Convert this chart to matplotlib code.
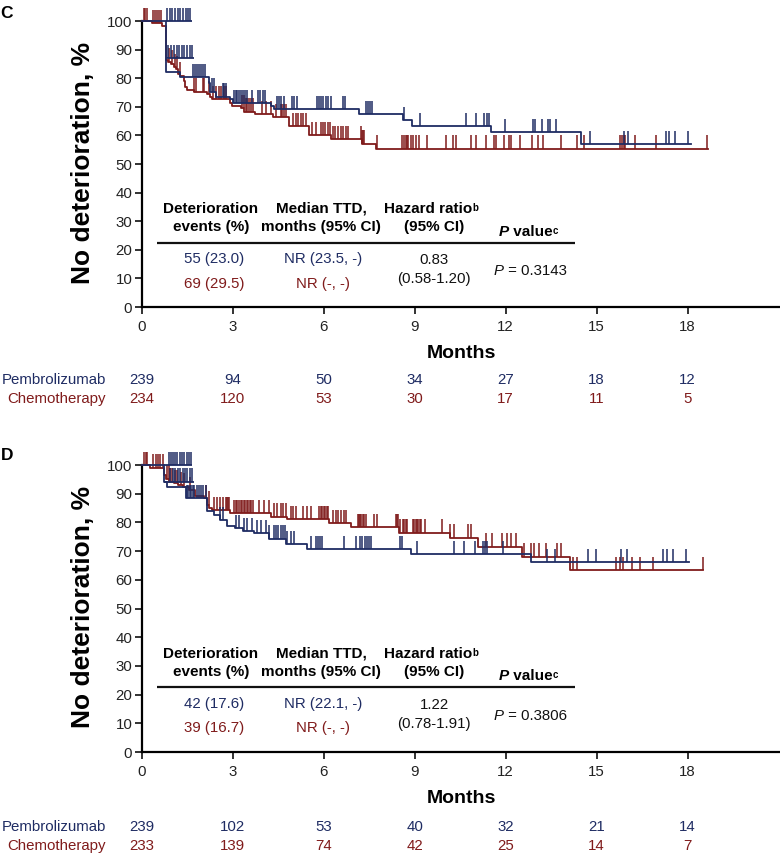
import numpy as np
import matplotlib
matplotlib.use("Agg")
import matplotlib.pyplot as plt
from matplotlib.transforms import blended_transform_factory

plt.rcParams['font.family'] = ['Liberation Sans', 'DejaVu Sans']

BLUE = '#1f2c63'
RED = '#801b1b'

months_ticks = [0, 3, 6, 9, 12, 15, 18]
y_ticks = [0, 10, 20, 30, 40, 50, 60, 70, 80, 90, 100]
arms = ['Pembrolizumab', 'Chemotherapy']

# ---------------- Panel C ----------------
c_pem_t = [0, 0.78, 1.25, 2.2, 2.25, 2.43, 2.9, 3.0, 4.24, 4.35, 7.17, 8.6, 8.92, 11.5, 14.5]
c_pem_s = [100, 82.3, 80.3, 78.2, 75.3, 73.5, 72.7, 71.2, 70.3, 69.1, 67.4, 65.4, 63.3, 61.1, 57.0]
c_pem_end = 18.12
c_pem_spur_levels = [100, 87.0]
c_pem_spur_start = [0.78, 0.78]
c_pem_spur_end = [1.66, 1.73]
c_pem_spur1_cens = [0.83, 0.91, 1.0, 1.1, 1.18, 1.27, 1.36, 1.45, 1.52, 1.6]
c_pem_spur2_cens = [0.87, 0.95, 1.05, 1.15, 1.23, 1.32, 1.4, 1.49, 1.58, 1.64]
c_pem_cens = [1.68, 1.74, 1.81, 1.87, 1.94, 2.0, 2.07, 2.32, 2.38, 2.66, 2.72, 2.78,
              3.03, 3.09, 3.14, 3.21, 3.27, 3.34, 3.41, 3.47, 3.64, 3.82, 3.9, 3.98, 4.06,
              4.44, 4.52, 4.6, 4.69, 4.95, 5.03, 5.12, 5.76, 5.83, 5.91, 5.98, 6.06, 6.15,
              6.22, 6.62, 6.69, 7.38, 7.46, 7.52, 7.6, 8.64, 9.16, 10.68, 11.03, 11.28,
              11.37, 11.45, 11.97, 12.91, 12.97, 13.19, 13.4, 13.47, 13.66, 14.77, 15.9,
              16.02, 17.28, 17.4, 17.6, 18.01]

c_che_t = [0, 0.34, 0.67, 0.78, 0.86, 0.96, 1.04, 1.12, 1.2, 1.25, 1.37, 1.43, 1.5, 1.7,
           2.15, 2.23, 2.3, 2.9, 2.98, 3.25, 3.38, 3.72, 4.33, 4.85, 5.5, 6.25, 7.25, 7.72]
c_che_s = [100, 99.2, 98.3, 86.4, 85.8, 85.0, 83.8, 83.1, 81.5, 80.8, 79.1, 76.8, 75.9, 75.3,
           74.4, 73.3, 72.6, 71.4, 70.3, 69.5, 68.3, 67.5, 66.3, 63.3, 60.1, 58.7, 57.1, 55.3]
c_che_end = 18.68
c_che_cens = [0.05, 0.1, 0.15, 0.36, 0.42, 0.48, 0.55, 0.62, 0.9, 1.0, 1.1, 1.15, 1.25,
              1.72, 1.78, 2.0, 2.05, 2.2, 2.35, 2.45, 2.55, 2.62, 2.7, 2.78,
              3.3, 3.36, 3.42, 3.48, 3.54, 3.6, 3.66, 3.97, 4.1, 4.25, 4.41,
              4.57, 4.63, 4.69, 4.75, 4.99, 5.07, 5.15, 5.23, 5.31, 5.4,
              5.62, 5.73, 5.91, 5.98, 6.05, 6.13, 6.2, 6.31, 6.38, 6.46, 6.55, 6.64, 6.73, 6.8,
              7.21, 7.25, 7.29, 7.32, 7.76, 8.59, 8.66, 8.7, 8.74, 8.77, 8.86, 8.95, 9.03,
              9.14, 9.41, 10.02, 10.27, 10.35, 10.86, 11.02, 11.36, 11.61, 11.69, 11.96,
              12.12, 12.19, 12.46, 12.88, 13.06, 13.23, 13.81, 14.34, 14.58, 15.77, 15.85,
              15.9, 15.93, 16.28, 16.95, 18.65]

c_events = ['55 (23.0)', '69 (29.5)']
c_median = ['NR (23.5, -)', 'NR (-, -)']
c_hr = ['0.83', '(0.58-1.20)']
c_p = '0.3143'
c_risk_pem = [239, 94, 50, 34, 27, 18, 12]
c_risk_che = [234, 120, 53, 30, 17, 11, 5]

# ---------------- Panel D ----------------
d_pem_t = [0, 0.71, 0.81, 1.44, 2.13, 2.16, 2.39, 2.57, 2.81, 3.06, 3.33, 3.69, 4.19, 4.76,
           5.45, 8.86, 12.82]
d_pem_s = [100, 94.2, 92.4, 88.4, 85.5, 84.0, 82.6, 80.8, 78.7, 77.9, 77.0, 76.2, 74.4, 72.4,
           70.7, 69.0, 66.1]
d_pem_end = 18.05
d_pem_spur_levels = [100, 94.2]
d_pem_spur_start = [0.71, 0.71]
d_pem_spur_end = [1.66, 1.71]
d_pem_spur1_cens = [0.88, 0.95, 1.02, 1.1, 1.17, 1.25, 1.32, 1.4, 1.47, 1.55, 1.62]
d_pem_spur2_cens = [0.94, 1.02, 1.1, 1.18, 1.26, 1.34, 1.42, 1.5, 1.58, 1.66]
d_pem_cens = [1.47, 1.52, 1.57, 1.62, 1.67, 1.72, 1.8, 1.88, 1.95, 2.02, 2.1, 2.59, 2.68,
              3.09, 3.2, 3.36, 3.47, 3.64, 3.8, 3.91, 4.08, 4.19, 4.35, 4.42, 4.5, 4.57,
              4.64, 4.71, 4.78, 4.9, 5.03, 5.56, 5.73, 5.8, 5.88, 5.95, 6.68, 7.05, 7.19,
              7.27, 7.35, 7.44, 7.49, 7.54, 8.51, 8.59, 9.06, 10.29, 10.64, 10.98, 11.25,
              11.32, 11.37, 11.92, 13.37, 13.61, 14.71, 14.97, 15.81, 15.99, 17.18, 17.33,
              17.51, 17.94]

d_che_t = [0, 0.28, 0.72, 0.78, 0.9, 1.05, 1.2, 1.35, 1.55, 1.75, 2.05, 2.15, 2.22, 2.3,
           2.9, 4.24, 4.79, 6.18, 6.88, 8.48, 10.16, 11.1, 12.55, 14.12]
d_che_s = [100, 99.1, 96.5, 95.3, 94.2, 93.6, 93.0, 92.4, 91.3, 89.2, 88.4, 86.1, 85.1, 84.3,
           83.2, 82.0, 81.2, 79.7, 78.3, 76.4, 74.7, 71.5, 68.1, 63.4]
d_che_end = 18.5
d_che_cens = [0.06, 0.12, 0.17, 0.37, 0.45, 0.52, 0.6, 0.68, 0.83, 0.88, 0.94, 1.0, 1.1,
              1.16, 1.3, 1.38, 1.6, 2.1, 2.2, 2.37, 2.46, 2.59, 2.68, 2.76, 2.8, 2.84, 2.88,
              3.05, 3.1, 3.15, 3.2, 3.25, 3.3, 3.35, 3.4, 3.45, 3.5, 3.55, 3.6, 3.65,
              3.86, 4.04, 4.19, 4.35, 4.46, 4.57, 4.66, 4.76, 4.9, 4.98, 5.07, 5.32, 5.45,
              5.58, 5.85, 5.9, 5.95, 6.0, 6.05, 6.1, 6.15, 6.31, 6.4, 6.48, 6.58, 6.65, 6.72,
              7.12, 7.16, 7.2, 7.24, 7.28, 7.32, 7.4, 7.65, 7.76, 8.37, 8.41, 8.45, 8.5,
              8.62, 8.66, 8.7, 8.75, 8.94, 8.98, 9.03, 9.07, 9.11, 9.16, 9.21, 9.33, 9.9,
              10.16, 10.28, 10.75, 10.86, 11.36, 11.56, 11.89, 12.04, 12.16, 12.35, 12.62,
              12.82, 12.93, 13.11, 13.34, 13.7, 13.83, 14.23, 14.35, 15.65, 15.77, 15.88,
              16.18, 16.43, 16.87, 18.5]

d_events = ['42 (17.6)', '39 (16.7)']
d_median = ['NR (22.1, -)', 'NR (-, -)']
d_hr = ['1.22', '(0.78-1.91)']
d_p = '0.3806'
d_risk_pem = [239, 102, 53, 40, 32, 21, 14]
d_risk_che = [233, 139, 74, 42, 25, 14, 7]

TICK_H = 4.7


def s_at(t, s, x):
    t = np.asarray(t)
    s = np.asarray(s)
    idx = np.searchsorted(t, x, side='right') - 1
    return s[idx]


def draw_curve(ax, t, s, end, cens, color, spur_levels=None, spur_start=None,
               spur_end=None, spur_cens=None):
    tt = list(t) + [end]
    ss = list(s) + [s[-1]]
    ax.step(tt, ss, where='post', color=color, lw=1.3, zorder=3, clip_on=False)
    base = s_at(t, s, cens)
    ax.vlines(cens, base, base + TICK_H, color=color, lw=1.1, zorder=3, clip_on=False)
    if spur_levels is not None:
        for lev, a, b, cs in zip(spur_levels, spur_start, spur_end, spur_cens):
            ax.hlines(lev, a, b, color=color, lw=1.3, zorder=3, clip_on=False)
            ax.vlines(cs, lev, lev + TICK_H, color=color, lw=1.1, zorder=3, clip_on=False)


def setup_axes(ax):
    ax.set_xlim(0, 21.05)
    ax.set_ylim(0, 107)
    for sp in ['top', 'right']:
        ax.spines[sp].set_visible(False)
    ax.spines['left'].set_bounds(0, 100)
    ax.spines['left'].set_linewidth(1.6)
    ax.spines['bottom'].set_linewidth(1.6)
    ax.set_xticks(months_ticks)
    ax.set_yticks(y_ticks)
    ax.tick_params(direction='out', length=5, width=1.3, labelsize=10.8, pad=2,
                   colors='#222222')
    ax.tick_params(axis='x', pad=4)
    tr = blended_transform_factory(ax.transAxes, ax.transData)
    ax.text(-0.092, 50.5, 'No deterioration, %', rotation=90, fontsize=19,
            fontweight='bold', ha='center', va='center', transform=tr)
    ax.text(0.5, -16.2, 'Months', fontsize=14, fontweight='bold', ha='center',
            va='center', transform=tr)


def draw_table(ax, events, median, hr, pval):
    fs_h = 11
    fs = 10.8
    ax.text(2.27, 34.3, 'Deterioration', fontsize=fs_h, fontweight='bold', ha='center', va='center')
    ax.text(2.27, 28.0, 'events (%)', fontsize=fs_h, fontweight='bold', ha='center', va='center')
    ax.text(5.92, 34.3, 'Median TTD,', fontsize=fs_h, fontweight='bold', ha='center', va='center')
    ax.text(5.92, 28.0, 'months (95% CI)', fontsize=fs_h, fontweight='bold', ha='center', va='center')
    t = ax.text(9.45, 34.3, 'Hazard ratio', fontsize=fs_h, fontweight='bold', ha='center', va='center')
    ax.annotate('b', xy=(1, 1), xycoords=t, xytext=(-0.3, -0.8), textcoords='offset points',
                fontsize=7, fontweight='bold', ha='left', va='top')
    ax.text(9.64, 28.0, '(95% CI)', fontsize=fs_h, fontweight='bold', ha='center', va='center')
    tp = ax.text(11.78, 26.4, 'P', fontsize=fs_h, fontweight='bold', style='italic',
                 ha='left', va='center')
    tv = ax.annotate(' value', xy=(1, 0), xycoords=tp, fontsize=fs_h, fontweight='bold',
                     ha='left', va='bottom')
    ax.annotate('c', xy=(1, 1), xycoords=tv, xytext=(-0.3, -0.8), textcoords='offset points',
                fontsize=7, fontweight='bold', ha='left', va='top')
    ax.hlines(22.5, 0.5, 14.3, color='#111111', lw=1.6)
    ax.text(2.38, 16.8, events[0], fontsize=fs, color=BLUE, ha='center', va='center')
    ax.text(2.38, 8.2, events[1], fontsize=fs, color=RED, ha='center', va='center')
    ax.text(5.97, 16.8, median[0], fontsize=fs, color=BLUE, ha='center', va='center')
    ax.text(5.97, 8.2, median[1], fontsize=fs, color=RED, ha='center', va='center')
    ax.text(9.64, 16.4, hr[0], fontsize=fs, color='#111111', ha='center', va='center')
    ax.text(9.64, 9.9, hr[1], fontsize=fs, color='#111111', ha='center', va='center')
    tp2 = ax.text(11.6, 12.7, 'P', fontsize=fs, style='italic', ha='left', va='center',
                  color='#111111')
    ax.annotate(' = ' + pval, xy=(1, 0), xycoords=tp2, fontsize=fs, ha='left',
                va='bottom', color='#111111')


def draw_risk(ax, risk_pem, risk_che, y1, y2):
    fs = 10.8
    ax.text(-1.2, y1, arms[0], fontsize=fs, color=BLUE, ha='right', va='center', clip_on=False)
    ax.text(-1.2, y2, arms[1], fontsize=fs, color=RED, ha='right', va='center', clip_on=False)
    for m, a, b in zip(months_ticks, risk_pem, risk_che):
        ax.text(m, y1, str(a), fontsize=fs, color=BLUE, ha='center', va='center')
        ax.text(m, y2, str(b), fontsize=fs, color=RED, ha='center', va='center')


fig = plt.figure(figsize=(7.8, 8.55), dpi=100)

axC = fig.add_axes([142 / 780, 1 - 307 / 855, 638 / 780, 306 / 855])
setup_axes(axC)
draw_curve(axC, c_che_t, c_che_s, c_che_end, c_che_cens, RED)
draw_curve(axC, c_pem_t, c_pem_s, c_pem_end, c_pem_cens, BLUE, c_pem_spur_levels,
           c_pem_spur_start, c_pem_spur_end, [c_pem_spur1_cens, c_pem_spur2_cens])
draw_table(axC, c_events, c_median, c_hr, c_p)
draw_risk(axC, c_risk_pem, c_risk_che, -25.7, -32.0)

axD = fig.add_axes([142 / 780, 1 - 752 / 855, 638 / 780, 307 / 855])
setup_axes(axD)
draw_curve(axD, d_che_t, d_che_s, d_che_end, d_che_cens, RED)
draw_curve(axD, d_pem_t, d_pem_s, d_pem_end, d_pem_cens, BLUE, d_pem_spur_levels,
           d_pem_spur_start, d_pem_spur_end, [d_pem_spur1_cens, d_pem_spur2_cens])
draw_table(axD, d_events, d_median, d_hr, d_p)
draw_risk(axD, d_risk_pem, d_risk_che, -26.3, -32.6)

fig.text(7 / 780, 1 - 13 / 855, 'C', fontsize=12.5, fontweight='bold', ha='center', va='center')
fig.text(7 / 780, 1 - 455 / 855, 'D', fontsize=12.5, fontweight='bold', ha='center', va='center')

fig.savefig('out.png', dpi=100)
